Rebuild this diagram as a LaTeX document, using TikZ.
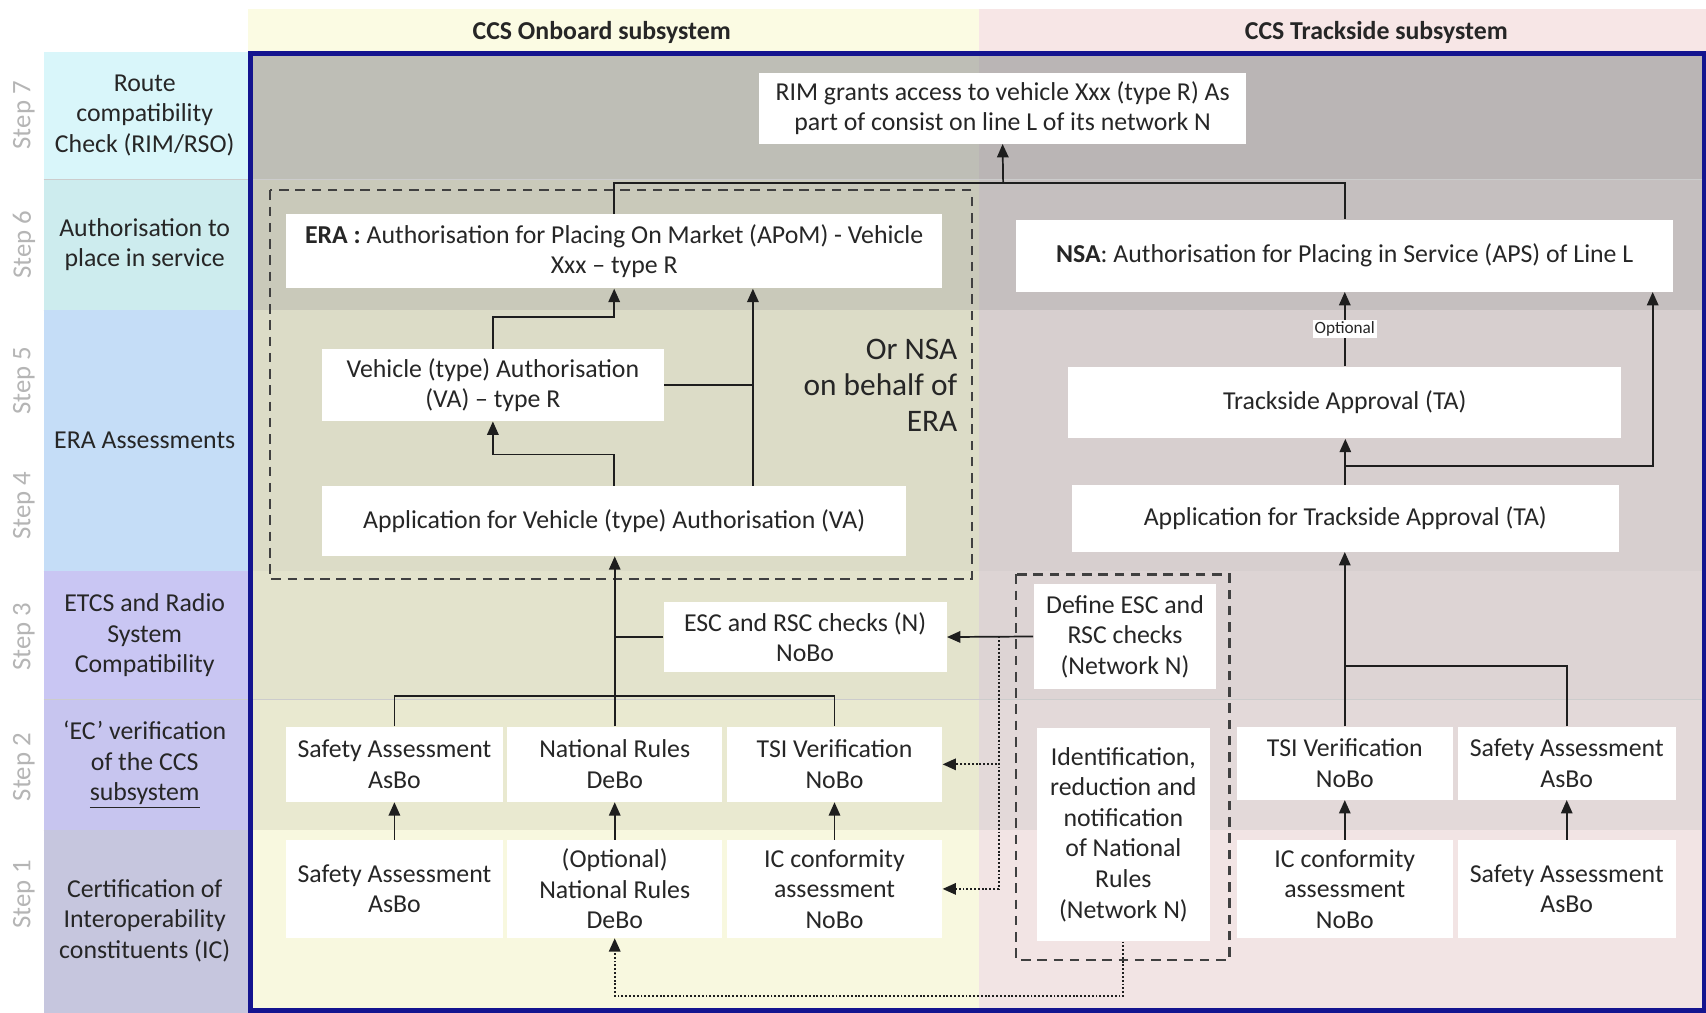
\documentclass[tikz,border=0pt]{standalone}
\usepackage{fontspec}
\setmainfont{Carlito}
\usetikzlibrary{arrows.meta}

\definecolor{txt}{HTML}{262626}
\definecolor{lnk}{HTML}{1E1E1E}
\definecolor{frameblue}{HTML}{14148F}
\definecolor{steptxt}{HTML}{B5B5B5}
% onboard column
\definecolor{onhdr}{HTML}{FBFBE3}
\definecolor{onS7}{HTML}{BEBEB6}
\definecolor{onS6}{HTML}{C9C9BA}
\definecolor{onS45}{HTML}{DCDCC7}
\definecolor{onS3}{HTML}{E3E3CC}
\definecolor{onS2}{HTML}{E9E9D0}
\definecolor{onS1}{HTML}{F8F8DF}
% trackside column
\definecolor{trhdr}{HTML}{F7E6E6}
\definecolor{trS7}{HTML}{BAB5B5}
\definecolor{trS6}{HTML}{C5BFBF}
\definecolor{trS45}{HTML}{D7CFCF}
\definecolor{trS3}{HTML}{DDD4D4}
\definecolor{trS2}{HTML}{E3D9D9}
\definecolor{trS1}{HTML}{F2E4E4}
% label column
\definecolor{lbS7}{HTML}{D9F6FA}
\definecolor{lbS6}{HTML}{CDECEE}
\definecolor{lbS45}{HTML}{C5DDF7}
\definecolor{lbS3}{HTML}{C9C6F3}
\definecolor{lbS2}{HTML}{C7C5EF}
\definecolor{lbS1}{HTML}{C6C6DE}

\tikzset{
  box/.style={fill=white, align=center, inner sep=2pt, text=txt,
    font=\fontsize{13.5}{16}\selectfont},
  sz/.style 2 args={minimum width=#1*0.2mm, minimum height=#2*0.2mm},
  lbl/.style={align=center, text=txt, font=\fontsize{13.5}{16}\selectfont},
  steplbl/.style={rotate=90, text=steptxt, font=\fontsize{14}{16}\selectfont},
  hdr/.style={text=txt, font=\fontsize{13.5}{15}\selectfont\bfseries},
  ornsa/.style={align=right, text=txt, anchor=east,
    font=\fontsize{16.4}{19}\selectfont},
  opt/.style={fill=white, inner sep=1pt, text=txt,
    font=\fontsize{9}{10}\selectfont},
  grp/.style={draw=black!75, line width=1.1pt, dash pattern=on 5pt off 3.5pt},
  link/.style={draw=lnk, line width=0.9pt},
  arr/.style={link, -{Triangle[length=7pt,width=6pt]}},
  dotarr/.style={draw=lnk, line width=1pt, densely dotted,
    -{Triangle[length=7pt,width=6pt]}},
}

\begin{document}
\begin{tikzpicture}[x=0.2mm,y=-0.2mm]
\useasboundingbox (0,0) rectangle (1568,931);
\fill[white] (0,0) rectangle (1568,931);

% header
\fill[onhdr] (228,8) rectangle (900,48);
\fill[trhdr] (900,8) rectangle (1568,48);
\node[hdr] (onb) at (553,30) {CCS Onboard subsystem};
\node[hdr] (trk) at (1265,30) {CCS Trackside subsystem};

% bands
\foreach \ya/\yb/\st in {48/165/S7, 165/285/S6, 285/525/S45, 525/643/S3, 643/763/S2, 763/931/S1}{
  \fill[lb\st] (40,\ya) rectangle (228,\yb);
  \fill[on\st] (228,\ya) rectangle (900,\yb);
  \fill[tr\st] (900,\ya) rectangle (1568,\yb);
  \draw[white!80!black, line width=0.3pt] (40,\yb) -- (1568,\yb);
}

% step numbers
\foreach \y/\n in {106/7, 225/6, 350/5, 465/4, 585/3, 705/2, 822/1}
  \node[steplbl] (s\n) at (22,\y) {Step \n};

% row titles
\node[lbl] (l7) at (133,106) {Route\\ compatibility\\ Check (RIM/RSO)};
\node[lbl] (l6) at (133,225) {Authorisation to\\ place in service};
\node[lbl] (l45) at (133,405) {ERA Assessments};
\node[lbl] (l3) at (133,584) {ETCS and Radio\\ System\\ Compatibility};
\node[lbl] (l2) at (133,703) {‘EC’ verification\\ of the CCS\\ \underline{subsystem}};
\node[lbl] (l1) at (133,846) {Certification of\\ Interoperability\\ constituents (IC)};

% frame
\draw[frameblue, line width=2.4pt] (230,49) rectangle (1566,929);

% groups
\draw[grp] (248,175) rectangle (893,532);
\draw[grp] (934,528) rectangle (1130,882);
\node[ornsa] (ornsa) at (886,354) {Or NSA\\ on behalf of\\ ERA};

% steps 7 and 6
\node[box, sz={447}{65}] (rim) at (921.5,99.5)
  {RIM grants access to vehicle Xxx (type R) As\\ part of consist on line L of its network N};
\node[box, sz={603}{68}] (era) at (564.5,231)
  {\textbf{ERA :} Authorisation for Placing On Market (APoM) - Vehicle\\ Xxx – type R};
\node[box, sz={604}{66}] (nsa) at (1236,235)
  {\textbf{NSA}: Authorisation for Placing in Service (APS) of Line L};

% steps 5 and 4
\node[box, sz={314}{66}] (va) at (453,354) {Vehicle (type) Authorisation\\ (VA) – type R};
\node[box, sz={537}{64}] (appva) at (564.5,479) {Application for Vehicle (type) Authorisation (VA)};
\node[box, sz={508}{66}] (ta) at (1236,370) {Trackside Approval (TA)};
\node[box, sz={503}{61}] (appta) at (1236.5,476.5) {Application for Trackside Approval (TA)};

% step 3
\node[box, sz={260}{65}] (esc) at (740,585.5) {ESC and RSC checks (N)\\ NoBo};
\node[box, sz={168}{96}] (defesc) at (1034,585) {Define ESC and\\ RSC checks\\ (Network N)};
\node[box, sz={159}{196}] (idnr) at (1032.5,767)
  {Identification,\\ reduction and\\ notification\\ of National\\ Rules\\ (Network N)};

% step 2
\node[box, sz={199}{69}] (sa2) at (362.5,702.5) {Safety Assessment\\ AsBo};
\node[box, sz={198}{69}] (nr2) at (565,702.5) {National Rules\\ DeBo};
\node[box, sz={198}{69}] (tsi2) at (767,702.5) {TSI Verification\\ NoBo};
\node[box, sz={199}{67}] (tsi2t) at (1236,701.5) {TSI Verification\\ NoBo};
\node[box, sz={200}{67}] (sa2t) at (1440,701.5) {Safety Assessment\\ AsBo};

% step 1
\node[box, sz={199}{90}] (sa1) at (362.5,817) {Safety Assessment\\ AsBo};
\node[box, sz={198}{90}] (nr1) at (565,817) {(Optional)\\ National Rules\\ DeBo};
\node[box, sz={198}{90}] (ic1) at (767,817) {IC conformity\\ assessment\\ NoBo};
\node[box, sz={199}{90}] (ic1t) at (1236,817) {IC conformity\\ assessment\\ NoBo};
\node[box, sz={200}{90}] (sa1t) at (1440,817) {Safety Assessment\\ AsBo};

\coordinate (topbus) at (922,168);
\coordinate (vahub) at (692,354);
\coordinate (tabus) at (1519,428);
\coordinate (trkbus) at (1236,612);
\coordinate (dotbus) at (918,585);

% connectors
\foreach \a/\b in {sa1/sa2, nr1/nr2, ic1/tsi2, ic1t/tsi2t, sa1t/sa2t}
  \draw[arr] (\a.north) -- (\b.south);
\draw[link] (sa2.north) -- ++(0,-28) -| (tsi2.north);
\draw[arr] (nr2.north) -- (nr2.north |- appva.south);
\draw[link] (esc.west) -- (esc.west -| nr2.north);
\draw[arr] (appva.north) -- ++(0,-29) -| (va.south);
\draw[link] (va.east) -- (vahub);
\draw[arr] (vahub |- appva.north) -- (vahub |- era.south);
\draw[arr] (va.north) -- ++(0,-29) -| (era.south);
\draw[link] (era.north) |- (topbus) -| (nsa.north);
\draw[arr] (topbus) -- (rim.south);
\draw[arr] (ta.north) -- node[opt] {Optional} (nsa.south);
\draw[arr] (appta.north) -- (appta.north |- ta.south);
\draw[arr] (appta.north |- tabus) -- (tabus) -- (tabus |- nsa.south);
\draw[arr] (tsi2t.north) -- (tsi2t.north |- appta.south);
\draw[link] (sa2t.north) |- (trkbus);
\draw[arr] (defesc.west) -- (esc.east);
\draw[dotarr] (dotbus) |- (tsi2.east);
\draw[dotarr] (dotbus) |- (ic1.east);
\draw[dotarr] (idnr.south) -- ++(0,50) -| (nr1.south);
\end{tikzpicture}
\end{document}
